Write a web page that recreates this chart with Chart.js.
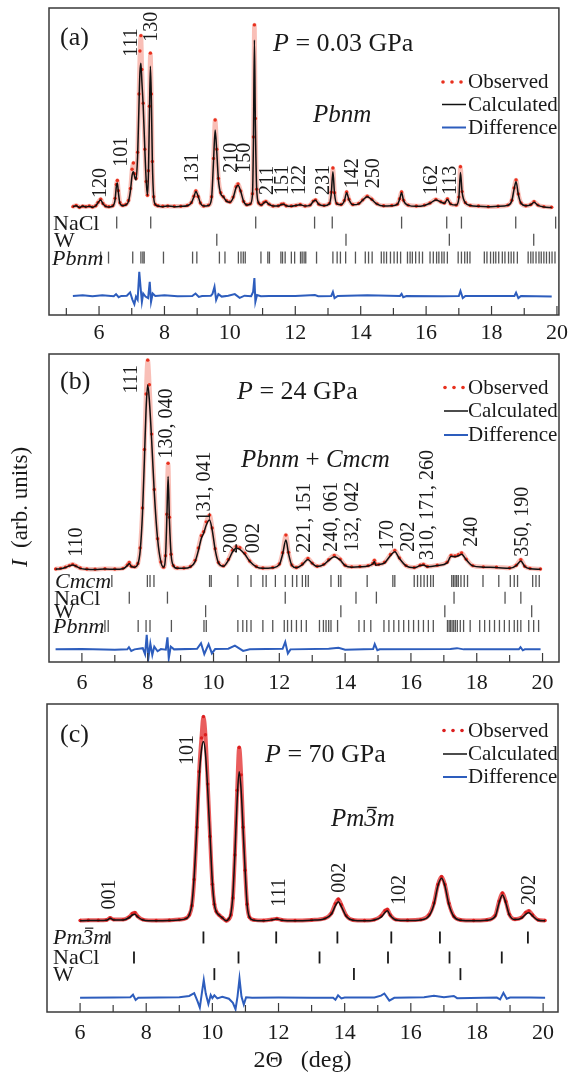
<!DOCTYPE html>
<html>
<head>
<meta charset="utf-8">
<title>Diffraction profiles</title>
<script src="https://cdn.jsdelivr.net/npm/chart.js@4.4.1/dist/chart.umd.min.js"></script>
<style>
  body { margin: 0; background: #fff; }
  canvas { position: absolute; left: 0; }
</style>
</head>
<body>
<canvas id="panel-a" width="573" height="345" style="top:0"></canvas>
<canvas id="panel-b" width="573" height="350" style="top:345px"></canvas>
<canvas id="panel-c" width="573" height="382" style="top:695px"></canvas>
<script>
const serif = "'Liberation Serif', 'Times New Roman', serif";
Chart.defaults.font.family = serif;
Chart.defaults.color = '#1a1a1a';

// ---------- (a) P = 0.03 GPa, Pbnm ----------
const angA = [5.2, 5.3, 5.4, 5.5, 5.6, 5.7, 5.8, 5.9, 5.97, 6.05, 6.12, 6.2, 6.3, 6.42, 6.49, 6.53, 6.56, 6.59, 6.64, 6.72,
  6.82, 6.9, 6.96, 7.01, 7.05, 7.09, 7.13, 7.18, 7.22, 7.25, 7.28, 7.31, 7.35, 7.4, 7.44, 7.48, 7.51, 7.54, 7.57, 7.6,
  7.63, 7.67, 7.72, 7.8, 7.95, 8.1, 8.3, 8.5, 8.7, 8.82, 8.9, 8.96, 9.03, 9.1, 9.2, 9.35, 9.44, 9.5, 9.55, 9.6,
  9.65, 9.72, 9.8, 9.9, 10.0, 10.1, 10.19, 10.25, 10.33, 10.42, 10.52, 10.62, 10.69, 10.72, 10.75, 10.78, 10.82, 10.88, 10.96, 11.04,
  11.1, 11.2, 11.32, 11.48, 11.58, 11.64, 11.72, 11.88, 12.02, 12.15, 12.3, 12.45, 12.55, 12.62, 12.72, 12.88, 13.04, 13.1, 13.15, 13.2,
  13.27, 13.4, 13.5, 13.57, 13.64, 13.76, 13.94, 14.06, 14.2, 14.34, 14.5, 14.7, 14.95, 15.12, 15.19, 15.25, 15.31, 15.45, 15.7, 15.95,
  16.12, 16.3, 16.45, 16.56, 16.65, 16.75, 16.92, 17.0, 17.05, 17.1, 17.2, 17.35, 17.6, 17.9, 18.2, 18.5, 18.62, 18.69, 18.75, 18.82,
  18.9, 19.05, 19.2, 19.3, 19.42, 19.6, 19.84];
const calcA = [35.3, 35.6, 35.0, 35.5, 35.2, 35.4, 35.1, 35.6, 36.6, 37.5, 36.2, 35.4, 35.2, 35.5, 37.5, 42, 43, 40, 36.3, 35.6,
  35.9, 37, 40.5, 45.5, 46.7, 45, 44, 52, 68, 79, 82, 76, 68, 54, 44, 39, 46, 65, 81, 70,
  50, 38.5, 36, 35.5, 35.3, 35.5, 35.3, 35.4, 35.6, 36.5, 38.5, 40.2, 38.7, 36.4, 35.5, 35.7, 38, 50, 60.3, 53,
  44, 39.5, 38.5, 37, 36.7, 38.2, 41.5, 42.3, 40.3, 37, 35.8, 36.1, 39, 56, 89.6, 62, 41, 36.5, 35.8, 36.5,
  36.9, 36, 35.5, 35.5, 36, 36.1, 35.6, 35.4, 35.7, 35.9, 35.5, 35.7, 37, 37.4, 36, 35.6, 36.2, 39.5, 46.7, 39.5,
  36.2, 35.9, 37.2, 39.8, 37.6, 35.9, 36.2, 37.4, 38.5, 37.6, 36.1, 35.5, 35.6, 36, 37.7, 39.8, 37.3, 35.7, 35.4, 35.7,
  36.4, 37.5, 36.8, 36.4, 37.6, 36.1, 35.8, 38, 46.4, 40, 36.5, 35.7, 35.4, 35.3, 35.4, 35.7, 37.2, 41, 43.4, 39.2,
  36.4, 35.6, 35.9, 36.7, 35.7, 35.2, 35.0];
const obsA = [35.3, 35.7, 35.1, 35.4, 35.3, 35.5, 35.2, 35.6, 36.7, 37.7, 36.3, 35.5, 35.3, 35.6, 38, 42.5, 43.8, 40.5, 36.6, 35.7,
  36, 37.3, 41.2, 47.5, 49.5, 46, 44.5, 53, 72, 86, 91, 80, 69, 54, 43.5, 39, 47, 68, 85.3, 72,
  50, 38.5, 36, 35.6, 35.4, 35.5, 35.4, 35.4, 35.7, 36.6, 38.7, 40.4, 38.6, 36.5, 35.5, 35.8, 38.5, 51, 63.5, 54,
  44.5, 39.8, 38.5, 37.2, 36.8, 38.4, 41.8, 42.7, 40.4, 37, 35.9, 36.2, 39.5, 58, 94.5, 64, 41, 36.5, 35.9, 36.7,
  37, 36.1, 35.5, 35.6, 36.1, 36.2, 35.6, 35.5, 35.7, 36, 35.5, 35.8, 37.1, 37.5, 36.1, 35.7, 36.3, 40, 47.9, 39.8,
  36.3, 36, 37.3, 40.1, 37.7, 36, 36.3, 37.5, 38.7, 37.7, 36.2, 35.6, 35.7, 36.1, 37.9, 40.1, 37.4, 35.8, 35.5, 35.8,
  36.5, 37.6, 36.9, 36.5, 37.8, 36.2, 35.8, 38.4, 48.3, 40.2, 36.6, 35.7, 35.5, 35.3, 35.4, 35.8, 37.4, 41.4, 44, 39.4,
  36.5, 35.6, 36, 36.9, 35.8, 35.3, 35.1];
const diffA = [[5.2, 6.2], [5.5, 6.4], [5.8, 6.1], [6.1, 6.4], [6.45, 6.1], [6.52, 6.8], [6.6, 5.8], [6.68, 6.2], [6.85, 6.3],
  [6.95, 7.4], [7.02, 5], [7.08, 3.5], [7.13, 6], [7.18, 5], [7.23, 14.1], [7.27, 9], [7.31, 4.3], [7.35, 7], [7.42, 6],
  [7.5, 5.5], [7.55, 10.8], [7.59, 4.3], [7.64, 7], [7.72, 6.2], [8.0, 6.4], [8.4, 6.1], [8.85, 6.2], [8.95, 7], [9.05, 5.9],
  [9.15, 6.2], [9.42, 6.3], [9.47, 6.9], [9.53, 9.2], [9.58, 4.9], [9.65, 6.8], [9.75, 6.0], [9.95, 6.3], [10.15, 6.8],
  [10.3, 5.6], [10.45, 6.3], [10.65, 6.1], [10.71, 7.5], [10.75, 12], [10.78, 4.3], [10.83, 6.5], [10.95, 6.1], [11.2, 6.2],
  [12.0, 6.2], [12.6, 6.5], [12.7, 6.1], [13.1, 6.2], [13.15, 7.5], [13.2, 5.5], [13.3, 6.2], [14.2, 6.4], [15.2, 6.2],
  [15.25, 6.9], [15.3, 5.8], [15.4, 6.2], [16.5, 6.1], [17.0, 6.2], [17.05, 7.8], [17.12, 5.5], [17.2, 6.2], [18.7, 6.2],
  [18.75, 7.3], [18.82, 5.5], [18.9, 6.2], [19.84, 6.0]];
const naclA = [6.54, 7.58, 10.79, 12.59, 13.13, 15.25, 16.63, 17.08, 18.74, 19.96];
const tungstenA = [9.6, 13.55, 16.71, 19.29];
const pbnmA = [6.05, 6.29, 7.03, 7.28, 7.34, 7.38, 7.97, 8.86, 8.99, 9.68, 9.85, 10.26, 10.34, 10.41, 10.47, 10.95,
  11.16, 11.21, 11.56, 11.61, 11.69, 11.88, 11.98, 12.16, 12.21, 12.27, 12.32, 12.65, 13.15, 13.28, 13.38, 13.54,
  13.84, 14.14, 14.24, 14.35, 14.63, 14.71, 14.79, 14.91, 15.02, 15.12, 15.22, 15.43, 15.51, 15.58, 15.68, 15.79,
  15.89, 16.12, 16.22, 16.32, 16.39, 16.48, 16.55, 16.65, 16.98, 17.08, 17.18, 17.26, 17.34, 17.78, 17.86, 17.97,
  18.06, 18.13, 18.22, 18.33, 18.41, 18.52, 18.6, 18.68, 18.79, 19.12, 19.2, 19.27, 19.36, 19.45, 19.52, 19.6,
  19.68, 19.77, 19.85, 19.94];
const hklA = [['120', 6.05, 38.1], ['101', 6.69, 48.3], ['111', 7.0, 84.1], ['130', 7.61, 89.0], ['131', 8.88, 43.0],
  ['210', 10.06, 46.3], ['150', 10.46, 46.3], ['211', 11.15, 39.1], ['151', 11.63, 39.1], ['122', 12.15, 39.1],
  ['231', 12.86, 39.1], ['142', 13.77, 41.3], ['250', 14.39, 41.3], ['162', 16.17, 39.1], ['113', 16.75, 39.1]];
const ticksA = [5, 6, 7, 8, 9, 10, 11, 12, 13, 14, 15, 16, 17, 18, 19, 20];

// ---------- (b) P = 24 GPa, Pbnm + Cmcm ----------
const angB = [5.2, 5.35, 5.5, 5.62, 5.72, 5.82, 5.95, 6.15, 6.4, 6.7, 7.0, 7.25, 7.38, 7.44, 7.5, 7.6, 7.7, 7.77, 7.84, 7.9,
  7.95, 8.0, 8.05, 8.12, 8.2, 8.3, 8.4, 8.48, 8.54, 8.58, 8.62, 8.66, 8.71, 8.78, 8.9, 9.1, 9.3, 9.44, 9.54, 9.63,
  9.7, 9.78, 9.88, 9.96, 10.05, 10.15, 10.3, 10.45, 10.58, 10.69, 10.8, 10.95, 11.1, 11.3, 11.5, 11.8, 12.0, 12.1, 12.2, 12.28,
  12.38, 12.52, 12.7, 12.87, 13.0, 13.15, 13.35, 13.5, 13.67, 13.85, 14.0, 14.2, 14.45, 14.7, 14.84, 14.89, 14.93, 15.02, 15.2, 15.38,
  15.51, 15.65, 15.85, 16.1, 16.28, 16.38, 16.5, 16.8, 17.1, 17.22, 17.34, 17.44, 17.54, 17.68, 17.88, 18.2, 18.6, 19.0, 19.2, 19.34,
  19.46, 19.62, 19.94];
const calcB = [30.1, 30.3, 30.7, 31.2, 31.5, 31.1, 30.4, 30.1, 30.0, 30.2, 30.1, 30.3, 31.3, 32, 31, 30.8, 31.8, 36, 48, 66,
  82, 90, 85, 72, 55, 40, 32.5, 30.8, 34, 46, 60.2, 46, 35, 31.3, 30.4, 30.4, 30.9, 32.6, 36.2, 40.2,
  41.8, 44.5, 46.1, 42.8, 36.5, 32.2, 31.1, 33, 35.8, 36.9, 36.6, 35, 32.7, 30.9, 30.4, 30.6, 31.6, 35, 39.6, 35.2,
  31.4, 30.6, 31.6, 33.3, 32, 31, 31.6, 33, 34.2, 33.1, 31.3, 30.8, 30.9, 31.2, 31.8, 32.6, 31.4, 31.6, 32.2, 34.6,
  35.8, 33.6, 31.2, 30.6, 31.3, 31.5, 30.9, 31.3, 32.2, 34.3, 34.2, 34.5, 35, 33.2, 31.2, 30.8, 30.7, 30.4, 31.3, 32.8,
  31, 30.3, 30.1];
const obsB = [30.2, 30.4, 30.8, 31.3, 31.7, 31.2, 30.5, 30.2, 30.1, 30.3, 30.2, 30.4, 31.5, 32.3, 31.1, 30.9, 32, 37, 50, 69,
  87, 98, 90, 74, 56, 40, 32.5, 30.8, 34.5, 48, 64.5, 47, 35, 31.3, 30.5, 30.5, 31, 33, 37, 41,
  42.3, 45.5, 47.7, 43.5, 36.8, 32.3, 31.2, 33.3, 36.3, 37.4, 37.1, 35.3, 32.8, 31, 30.5, 30.7, 31.8, 35.5, 41.2, 35.6,
  31.5, 30.7, 31.8, 33.6, 32.1, 31.1, 31.7, 33.2, 34.6, 33.4, 31.4, 30.9, 31, 31.3, 32, 33, 31.8, 31.7, 32.4, 34.9,
  36.2, 33.8, 31.3, 30.7, 31.4, 31.7, 31, 31.4, 32.4, 34.6, 34.4, 34.8, 35.4, 33.4, 31.3, 30.9, 30.8, 30.5, 31.4, 33.2,
  31.1, 30.4, 30.2];
const diffB = [[5.2, 4.1], [6.0, 4.2], [7.0, 4.0], [7.38, 4.1], [7.43, 4.8], [7.5, 3.6], [7.6, 4.1], [7.85, 4.5], [7.92, 2.5],
  [7.97, 8.8], [8.02, 1.2], [8.08, 6], [8.14, 2.3], [8.2, 5], [8.3, 3.5], [8.4, 4.2], [8.55, 4], [8.6, 8], [8.64, 1.2],
  [8.7, 5], [8.8, 4.1], [9.5, 4.3], [9.62, 6.1], [9.72, 2.6], [9.85, 5.8], [9.95, 2.8], [10.05, 4.2], [10.45, 4.3],
  [10.65, 5.3], [10.9, 3.6], [11.1, 4.1], [12.1, 4.3], [12.18, 6.5], [12.26, 2.8], [12.34, 4.1], [13.5, 4.3], [13.8, 4.6],
  [14.0, 4.0], [14.85, 4.2], [14.9, 5.8], [14.98, 3.8], [15.05, 4.1], [17.2, 4.2], [17.4, 4.5], [17.6, 4.1], [19.28, 4.1],
  [19.33, 4.8], [19.4, 3.8], [19.46, 4.1], [19.94, 4.1]];
const cmcmB = [6.91, 7.99, 8.07, 8.19, 9.88, 9.93, 10.74, 11.14, 11.5, 11.6, 11.88, 12.18, 12.4, 12.53, 12.7, 12.8,
  12.88, 13.57, 13.8, 13.87, 14.67, 15.45, 15.51, 16.1, 16.2, 16.3, 16.4, 16.5, 16.6, 16.68, 17.24, 17.29, 17.34,
  17.39, 17.44, 17.52, 17.62, 17.72, 18.19, 18.67, 19.02, 19.14, 19.24, 19.7, 19.8, 19.9];
const naclB = [7.44, 8.6, 12.18, 14.33, 14.95, 17.31, 18.86, 19.34];
const tungstenB = [9.76, 13.87, 17.03, 19.67];
const pbnmB = [6.7, 6.8, 7.71, 7.95, 8.07, 8.72, 9.71, 9.78, 10.74, 10.89, 11.01, 11.14, 11.5, 11.8, 12.15, 12.25,
  12.37, 12.52, 12.67, 12.82, 13.22, 13.34, 13.42, 13.5, 13.57, 13.77, 14.42, 14.58, 14.78, 15.18, 15.33, 15.48,
  15.63, 15.78, 15.93, 16.08, 16.23, 16.38, 16.53, 16.68, 17.11, 17.16, 17.2, 17.25, 17.3, 17.35, 17.41, 17.5,
  17.6, 17.8, 18.09, 18.24, 18.39, 18.54, 18.69, 18.84, 18.99, 19.14, 19.24, 19.34, 19.58, 19.73, 19.88];
const hklB = [['110', 5.85, 34.2], ['111', 7.52, 87.2], ['130, 040', 8.58, 66.1], ['131, 041', 9.74, 45.6],
  ['200', 10.55, 35.3], ['002', 11.23, 35.3], ['221, 151', 12.78, 35.5], ['240, 061', 13.59, 35.8],
  ['132, 042', 14.22, 35.8], ['170', 15.31, 36.4], ['202', 15.94, 35.8], ['310, 171, 260', 16.52, 33.1],
  ['240', 17.84, 37.4], ['350, 190', 19.4, 34.2]];
const ticksB = [6, 7, 8, 9, 10, 11, 12, 13, 14, 15, 16, 17, 18, 19, 20];

// ---------- (c) P = 70 GPa, Pm-3m ----------
const angC = [6.0, 6.25, 6.55, 6.8, 6.91, 7.02, 7.3, 7.48, 7.58, 7.66, 7.74, 7.9, 8.3, 8.7, 9.0, 9.2, 9.3, 9.38, 9.45, 9.53,
  9.6, 9.67, 9.73, 9.79, 9.86, 9.93, 10.0, 10.06, 10.12, 10.2, 10.3, 10.42, 10.5, 10.56, 10.62, 10.68, 10.75, 10.81, 10.87, 10.93,
  10.99, 11.05, 11.12, 11.25, 11.55, 11.8, 11.95, 12.1, 12.5, 13.0, 13.4, 13.6, 13.72, 13.81, 13.9, 14.05, 14.25, 14.6, 14.9, 15.1,
  15.22, 15.29, 15.38, 15.55, 15.9, 16.3, 16.55, 16.7, 16.82, 16.93, 17.03, 17.15, 17.3, 17.5, 17.9, 18.3, 18.55, 18.67, 18.77, 18.87,
  18.98, 19.15, 19.35, 19.48, 19.57, 19.68, 19.85, 20.06];
const calcC = [29.6, 29.7, 29.7, 29.8, 30.4, 29.9, 29.9, 30.6, 31.5, 31.7, 30.9, 29.9, 29.6, 29.7, 29.9, 30.3, 31.5, 35, 44, 60,
  76, 85, 87.8, 84, 72, 57, 42, 35, 32.5, 31.5, 30.6, 29.6, 30.3, 32, 38, 51, 69, 78, 72, 59,
  46, 35, 30.8, 29.8, 29.6, 29.9, 30.2, 29.8, 29.6, 29.8, 30.3, 31.8, 34.5, 35.8, 34.2, 31, 29.8, 29.6, 29.9, 30.8,
  32.3, 32.9, 31.3, 29.9, 29.7, 29.9, 31.2, 35, 41, 43.4, 41, 35, 31, 29.8, 29.6, 29.8, 31, 35.5, 38, 35.5,
  31.5, 30, 30.5, 31.8, 32.2, 31.2, 29.8, 29.6];
const obsC = [29.7, 29.8, 29.8, 29.9, 30.5, 30.0, 30.0, 30.8, 31.9, 32.2, 31.1, 30.0, 29.7, 29.8, 30, 30.4, 31.5, 34.5, 43, 60,
  78, 89, 95.9, 90, 74, 57, 41.5, 35, 32.6, 31.5, 30.6, 29.6, 30.2, 31.5, 37, 51, 72, 85.9, 77, 60,
  46, 35, 30.8, 29.9, 29.7, 30, 30.3, 29.9, 29.7, 29.9, 30.4, 32.1, 35.2, 36.6, 34.8, 31.3, 29.9, 29.7, 30.0, 31.2,
  32.9, 33.3, 31.5, 30, 29.8, 30.0, 31.5, 35.4, 41.4, 43.9, 41.4, 35.3, 31.1, 29.9, 29.7, 29.9, 31.3, 36, 38.6, 35.9,
  31.7, 30.1, 30.7, 32.3, 32.8, 31.5, 29.9, 29.7];
const diffC = [[6.0, 4.65], [7.0, 4.7], [7.52, 4.8], [7.6, 5.6], [7.68, 3.9], [7.76, 4.6], [9.0, 4.8], [9.3, 5.2], [9.45, 6.1],
  [9.55, 3.5], [9.62, 1.4], [9.68, 6], [9.74, 10.4], [9.8, 6], [9.88, 2.6], [9.95, 5.5], [10.0, 4.5], [10.06, 5.4],
  [10.15, 4.4], [10.3, 4.9], [10.5, 4.3], [10.62, 3], [10.7, 0.9], [10.76, 5], [10.82, 10.9], [10.88, 5], [10.95, 2.4],
  [11.02, 4.8], [11.2, 4.6], [12.0, 4.7], [13.0, 4.6], [13.65, 4.6], [13.72, 4.0], [13.8, 5.4], [13.9, 4.4], [14.0, 4.7],
  [14.9, 4.7], [15.1, 5.3], [15.2, 6.0], [15.35, 3.7], [15.5, 4.6], [16.4, 4.8], [16.7, 5.3], [17.0, 4.8], [17.3, 5.2],
  [17.4, 4.5], [18.6, 4.7], [18.7, 4.1], [18.8, 6.2], [18.9, 4.3], [19.0, 4.7], [19.6, 4.7], [20.06, 4.65]];
const pm3mC = [6.89, 9.73, 11.93, 13.78, 15.41, 16.88, 19.54];
const naclC = [7.63, 10.79, 13.24, 15.31, 17.17, 18.75];
const tungstenC = [10.06, 14.28, 17.5];
const hklC = [['001', 6.91, 33.3], ['101', 9.27, 80.2], ['111', 12.03, 34.2], ['002', 13.84, 38.7],
  ['102', 15.68, 34.7], ['202', 19.61, 34.7]];
const ticksC = [6, 7, 8, 9, 10, 11, 12, 13, 14, 15, 16, 17, 18, 19, 20];

// ---------- drawing helpers ----------
function drawRuns(ctx, runs, x, y, size) {
  for (const [text, italic, bar] of runs) {
    ctx.font = `${italic ? 'italic ' : ''}${size}px ${serif}`;
    ctx.fillText(text, x, y);
    const w = ctx.measureText(text).width;
    if (bar) {
      const top = y - size * 0.74;
      ctx.save();
      ctx.strokeStyle = ctx.fillStyle;
      ctx.lineWidth = Math.max(1, size * 0.055);
      ctx.beginPath();
      ctx.moveTo(x + w * 0.25, top);
      ctx.lineTo(x + w * 1.0, top);
      ctx.stroke();
      ctx.restore();
    }
    x += w;
  }
  return x;
}

function runsWidth(ctx, runs, size) {
  let w = 0;
  for (const [text, italic] of runs) {
    ctx.font = `${italic ? 'italic ' : ''}${size}px ${serif}`;
    w += ctx.measureText(text).width;
  }
  return w;
}

const panelDecor = {
  id: 'panelDecor',
  afterDraw(chart, args, o) {
    const {ctx, chartArea: area, scales: {x, y}} = chart;
    ctx.save();
    ctx.fillStyle = '#1a1a1a';
    ctx.textAlign = 'left';
    ctx.textBaseline = 'alphabetic';

    // frame
    ctx.strokeStyle = '#3a3a3a';
    ctx.lineWidth = 1.5;
    ctx.strokeRect(area.left, area.top, area.right - area.left, area.bottom - area.top);

    // ticks point inward from the bottom edge
    ctx.lineWidth = 1.2;
    x.ticks.forEach(t => {
      const px = x.getPixelForValue(t.value);
      const len = t.value % 2 === 0 ? 9 : 7;
      ctx.beginPath();
      ctx.moveTo(px, area.bottom);
      ctx.lineTo(px, area.bottom - len);
      ctx.stroke();
    });

    drawRuns(ctx, [[o.tag]], o.tagAt[0], o.tagAt[1], 26);
    drawRuns(ctx, o.pressure, o.pressureAt[0], o.pressureAt[1], 26);
    drawRuns(ctx, o.phase, o.phaseAt[0], o.phaseAt[1], 25);

    // reflection indices, written upward above each peak
    ctx.font = `20px ${serif}`;
    ctx.textBaseline = 'middle';
    o.hkl.forEach(([txt, ang, lvl]) => {
      ctx.save();
      ctx.translate(x.getPixelForValue(ang), y.getPixelForValue(lvl));
      ctx.rotate(-Math.PI / 2);
      ctx.fillText(txt, 0, 0);
      ctx.restore();
    });
    ctx.textBaseline = 'alphabetic';

    // phase names in front of the tick rows
    o.rows.forEach(r => drawRuns(ctx, r.name, r.labelX, y.getPixelForValue(r.level) + 7, 22));

    // legend
    const lg = o.legend;
    ['Observed', 'Calculated', 'Difference'].forEach((name, i) => {
      const ds = chart.data.datasets.find(d => d.label === name);
      const base = lg.y[i];
      const mid = base - 6;
      if (name === 'Observed') {
        ctx.fillStyle = ds.pointBackgroundColor;
        [0, 9, 18].forEach(dx => {
          ctx.beginPath();
          ctx.arc(lg.x + dx + 1, mid, 1.8, 0, Math.PI * 2);
          ctx.fill();
        });
      } else {
        ctx.strokeStyle = ds.borderColor;
        ctx.lineWidth = ds.borderWidth;
        ctx.beginPath();
        ctx.moveTo(lg.x, mid);
        ctx.lineTo(lg.x + 24, mid);
        ctx.stroke();
      }
      ctx.fillStyle = '#1a1a1a';
      drawRuns(ctx, [[name]], lg.textX, base, 21);
    });

    // intensity title shared by the three panels
    if (o.yTitle) {
      const runs = [['I', true], ['  (arb. units)', false]];
      const w = runsWidth(ctx, runs, 23);
      ctx.save();
      ctx.translate(o.yTitle[0], o.yTitle[1]);
      ctx.rotate(-Math.PI / 2);
      ctx.textBaseline = 'middle';
      drawRuns(ctx, runs, -w / 2, 0, 23);
      ctx.restore();
    }
    ctx.restore();
  }
};

function xy(xs, ys) {
  return xs.map((v, i) => ({x: v, y: ys[i]}));
}

function buildPanel(p) {
  const rowColor = p.rowColor;
  const datasets = [
    {label: 'Calculated', data: xy(p.ang, p.calc), borderColor: '#111', borderWidth: 1.5,
      pointRadius: 0, cubicInterpolationMode: 'monotone'},
    {label: 'Observed', data: xy(p.ang, p.obs), borderColor: p.haloColor, borderWidth: p.haloWidth,
      pointRadius: 1.7, pointBackgroundColor: p.dotColor, pointBorderWidth: 0, cubicInterpolationMode: 'monotone'},
    {label: 'Difference', data: p.diff.map(([a, d]) => ({x: a, y: d})), borderColor: '#2d5dbd', borderWidth: 2,
      pointRadius: 0, tension: 0}
  ];
  p.rows.forEach(r => datasets.push({
    label: r.key, data: r.pos.map(a => ({x: a, y: r.level})), showLine: false,
    pointStyle: 'line', rotation: 90, pointRadius: 6,
    pointBorderColor: rowColor, pointBorderWidth: p.rowWidth
  }));

  return new Chart(document.getElementById(p.canvas), {
    type: 'line',
    data: {datasets},
    options: {
      responsive: false,
      animation: false,
      events: [],
      devicePixelRatio: 1,
      layout: {padding: {left: p.pad[0], right: p.pad[1], top: p.pad[2], bottom: 0}},
      scales: {
        x: {
          type: 'linear', min: p.range[0], max: p.range[1],
          afterBuildTicks: s => { s.ticks = p.ticks.map(v => ({value: v})); },
          afterFit: s => { s.height = p.axisHeight; },
          grid: {display: false, drawTicks: false},
          border: {display: false},
          ticks: {
            autoSkip: false, maxRotation: 0, padding: p.labelPad,
            font: {size: 22}, color: '#1a1a1a',
            callback: v => (v % 2 === 0 ? String(v) : '')
          },
          title: p.xTitle ? {display: true, text: '2\u0398   (deg)', font: {size: 24}, color: '#1a1a1a',
            padding: {top: 0, bottom: 2}} : {display: false}
        },
        y: {display: false, min: 0, max: 100}
      },
      plugins: {
        legend: {display: false},
        tooltip: {enabled: false},
        panelDecor: p.decor
      }
    },
    plugins: [panelDecor]
  });
}

buildPanel({
  canvas: 'panel-a', ang: angA, obs: obsA, calc: calcA, diff: diffA,
  range: [4.47, 20.06], ticks: ticksA, pad: [49, 14, 8], axisHeight: 30, labelPad: 5,
  haloColor: 'rgba(238,88,66,0.38)', haloWidth: 4.5, dotColor: '#e8301e',
  rowColor: '#555', rowWidth: 1.3,
  rows: [
    {key: 'NaCl', pos: naclA, level: 30.1},
    {key: 'W', pos: tungstenA, level: 24.5},
    {key: 'Pbnm', pos: pbnmA, level: 18.7}
  ],
  decor: {
    tag: '(a)', tagAt: [60, 45],
    pressure: [['P', true], [' = 0.03 GPa', false]], pressureAt: [273, 51],
    phase: [['Pbnm', true]], phaseAt: [313, 122],
    hkl: hklA,
    rows: [
      {name: [['NaCl']], level: 30.1, labelX: 53},
      {name: [['W']], level: 24.5, labelX: 54},
      {name: [['Pbnm', true]], level: 18.7, labelX: 52}
    ],
    legend: {x: 442, textX: 468, y: [88, 110.5, 133.5]}
  }
});

buildPanel({
  canvas: 'panel-b', ang: angB, obs: obsB, calc: calcB, diff: diffB,
  range: [5.0, 20.5], ticks: ticksB, pad: [49, 14, 9], axisHeight: 33, labelPad: 8,
  haloColor: 'rgba(238,88,66,0.38)', haloWidth: 4.5, dotColor: '#e8301e',
  rowColor: '#555', rowWidth: 1.3,
  rows: [
    {key: 'Cmcm', pos: cmcmB, level: 26.3},
    {key: 'NaCl', pos: naclB, level: 20.9},
    {key: 'W', pos: tungstenB, level: 16.5},
    {key: 'Pbnm', pos: pbnmB, level: 11.7}
  ],
  decor: {
    tag: '(b)', tagAt: [60, 44],
    pressure: [['P', true], [' = 24 GPa', false]], pressureAt: [237, 54],
    phase: [['Pbnm', true], [' + ', false], ['Cmcm', true]], phaseAt: [241, 122],
    hkl: hklB,
    rows: [
      {name: [['Cmcm', true]], level: 26.3, labelX: 55},
      {name: [['NaCl']], level: 20.9, labelX: 54},
      {name: [['W']], level: 16.5, labelX: 54},
      {name: [['Pbnm', true]], level: 11.7, labelX: 53}
    ],
    legend: {x: 444, textX: 468, y: [48.5, 72, 96]},
    yTitle: [21, 162]
  }
});

buildPanel({
  canvas: 'panel-c', ang: angC, obs: obsC, calc: calcC, diff: diffC,
  range: [5.0, 20.45], ticks: ticksC, pad: [47, 15, 9], axisHeight: 65, labelPad: 8,
  haloColor: 'rgba(224,30,30,0.72)', haloWidth: 4, dotColor: '#dc1e1e',
  rowColor: '#1a1a1a', rowWidth: 1.8, xTitle: true,
  rows: [
    {key: 'Pm-3m', pos: pm3mC, level: 24.2},
    {key: 'NaCl', pos: naclC, level: 17.7},
    {key: 'W', pos: tungstenC, level: 12.3}
  ],
  decor: {
    tag: '(c)', tagAt: [60, 47],
    pressure: [['P', true], [' = 70 GPa', false]], pressureAt: [265, 67],
    phase: [['Pm', true], ['3', true, true], ['m', true]], phaseAt: [331, 131],
    hkl: hklC,
    rows: [
      {name: [['Pm', true], ['3', true, true], ['m', true]], level: 24.2, labelX: 53},
      {name: [['NaCl']], level: 17.7, labelX: 53},
      {name: [['W']], level: 12.3, labelX: 53}
    ],
    legend: {x: 443, textX: 468, y: [41.5, 65, 88]}
  }
});
</script>
</body>
</html>
